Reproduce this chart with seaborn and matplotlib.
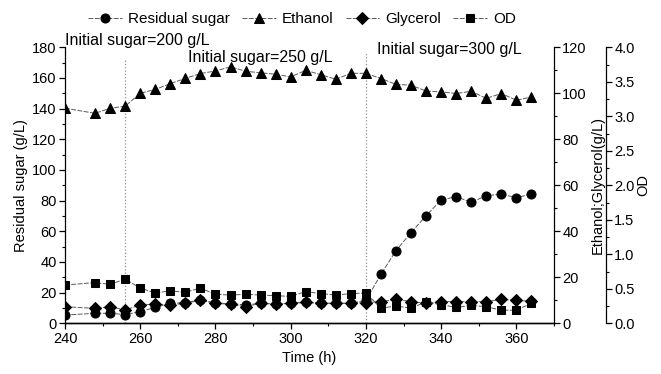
import matplotlib
matplotlib.use('Agg')
import matplotlib.pyplot as plt
import pandas as pd
import seaborn as sns
from matplotlib.ticker import MultipleLocator

# ---- data ----
time = [240, 248, 252, 256, 260, 264, 268, 272, 276, 280, 284, 288, 292, 296, 300,
        304, 308, 312, 316, 320, 324, 328, 332, 336, 340, 344, 348, 352, 356, 360, 364]
residual_sugar = [5.4, 6.5, 6.5, 5.7, 7.6, 10.4, 13.0, 13.5, 15.2, 13.2, 12.8, 12.0, 13.0, 12.6, 13.0,
                  13.6, 13.0, 13.0, 13.0, 15.0, 32.0, 47.4, 59.1, 70.2, 80.4, 82.6, 78.9, 83.2, 84.3, 81.9, 84.3]
ethanol = [93.5, 91.3, 93.5, 94.4, 100.0, 101.7, 104.2, 106.5, 108.6, 109.7, 111.5, 109.6, 108.9, 108.3, 107.1,
           110.0, 108.1, 106.1, 108.7, 108.7, 106.4, 103.9, 103.5, 101.0, 100.6, 99.9, 100.9, 97.8, 99.9, 97.0, 98.4]
glycerol = [7.2, 6.5, 7.2, 5.8, 8.0, 8.3, 8.0, 8.7, 10.0, 8.7, 8.3, 7.2, 8.7, 8.4, 8.7,
            9.4, 8.7, 8.7, 8.7, 9.0, 9.4, 10.4, 9.4, 8.7, 9.4, 9.4, 9.4, 9.4, 10.4, 10.0, 9.5]
od = [0.555, 0.59, 0.565, 0.64, 0.51, 0.44, 0.47, 0.45, 0.51, 0.42, 0.41, 0.42, 0.41, 0.40, 0.39,
      0.46, 0.43, 0.41, 0.43, 0.44, 0.22, 0.25, 0.22, 0.31, 0.27, 0.23, 0.26, 0.24, 0.19, 0.19, 0.29]

series_labels = ['Residual sugar', 'Ethanol', 'Glycerol', 'OD']
annotations = ['Initial sugar=200 g/L', 'Initial sugar=250 g/L', 'Initial sugar=300 g/L']
switch_times = [256, 320]

df = pd.DataFrame({'time': time, 'sugar': residual_sugar, 'ethanol': ethanol,
                   'glycerol': glycerol, 'od': od})

# ---- style ----
sns.set_theme(style='ticks')
plt.rcParams['font.family'] = ['Liberation Sans', 'DejaVu Sans']
plt.rcParams['font.size'] = 10
plt.rcParams['text.color'] = 'black'
plt.rcParams['axes.labelcolor'] = 'black'
plt.rcParams['xtick.color'] = 'black'
plt.rcParams['ytick.color'] = 'black'
plt.rcParams['axes.edgecolor'] = 'black'

W, H = 661, 374
fig = plt.figure(figsize=(W / 100, H / 100), dpi=100)
ax = fig.add_axes([65 / W, 1 - 323.3 / H, (554 - 65) / W, (323.3 - 47.3) / H])
ax2 = ax.twinx()
ax3 = ax.twinx()
ax3.spines['right'].set_position(('axes', 1 + 52 / 489))

line_kw = dict(color='#5a5a5a', linewidth=0.7, linestyle=(0, (5, 1.5)),
               markerfacecolor='black', markeredgecolor='black')

handles = []
sns.lineplot(data=df, x='time', y='sugar', ax=ax, marker='o', markersize=6.5, **line_kw)
handles.append(ax.lines[-1])
sns.lineplot(data=df, x='time', y='ethanol', ax=ax2, marker='^', markersize=7.5, **line_kw)
handles.append(ax2.lines[-1])
sns.lineplot(data=df, x='time', y='glycerol', ax=ax2, marker='D', markersize=6, **line_kw)
handles.append(ax2.lines[-1])
sns.lineplot(data=df, x='time', y='od', ax=ax3, marker='s', markersize=6, **line_kw)
handles.append(ax3.lines[-1])

for t, ym in zip(switch_times, [0.961, 0.979]):
    ax.axvline(t, ymin=0, ymax=ym, color='#909090', linestyle=':', linewidth=0.9, zorder=0)

# axes limits and ticks
ax.set_xlim(240, 370)
ax.set_ylim(0, 180)
ax2.set_ylim(0, 120)
ax3.set_ylim(0, 4.0)
ax.xaxis.set_major_locator(MultipleLocator(20))
ax.xaxis.set_minor_locator(MultipleLocator(10))
ax.yaxis.set_major_locator(MultipleLocator(20))
ax.yaxis.set_minor_locator(MultipleLocator(10))
ax2.yaxis.set_major_locator(MultipleLocator(20))
ax2.yaxis.set_minor_locator(MultipleLocator(10))
ax3.yaxis.set_major_locator(MultipleLocator(0.5))
ax3.yaxis.set_minor_locator(MultipleLocator(0.25))
ax3.yaxis.set_major_formatter(matplotlib.ticker.FormatStrFormatter('%.1f'))

for a in (ax, ax2, ax3):
    a.tick_params(which='major', direction='out', length=4, width=0.9, labelsize=10.5, pad=2)
    a.tick_params(which='minor', direction='out', length=2.5, width=0.8)
    a.spines['top'].set_visible(False)
    for s in a.spines.values():
        s.set_linewidth(0.9)
ax.spines['right'].set_visible(False)
ax2.spines['left'].set_visible(False)
ax3.spines['left'].set_visible(False)

ax.set_xlabel('Time (h)', fontsize=10.5, labelpad=4)
ax.set_ylabel('Residual sugar (g/L)', fontsize=10.5, labelpad=3)
ax2.set_ylabel('Ethanol;Glycerol(g/L)', fontsize=10.5, labelpad=3)
ax3.set_ylabel('OD', fontsize=10.5, labelpad=1)

# annotations
fig.text(65 / W, 1 - 45 / H, annotations[0], fontsize=11.5, va='baseline', ha='left')
fig.text(188 / W, 1 - 62 / H, annotations[1], fontsize=11.5, va='baseline', ha='left')
fig.text(377 / W, 1 - 54 / H, annotations[2], fontsize=11.5, va='baseline', ha='left')

for h, lab in zip(handles, series_labels):
    h.set_label(lab)
fig.legend(handles=handles, labels=series_labels, loc='center', ncol=4,
           bbox_to_anchor=(302 / W, 1 - 19 / H), frameon=False, fontsize=11,
           handlelength=2.2, handletextpad=0.4, columnspacing=0.8, borderaxespad=0)

fig.savefig('out.png', dpi=100)
